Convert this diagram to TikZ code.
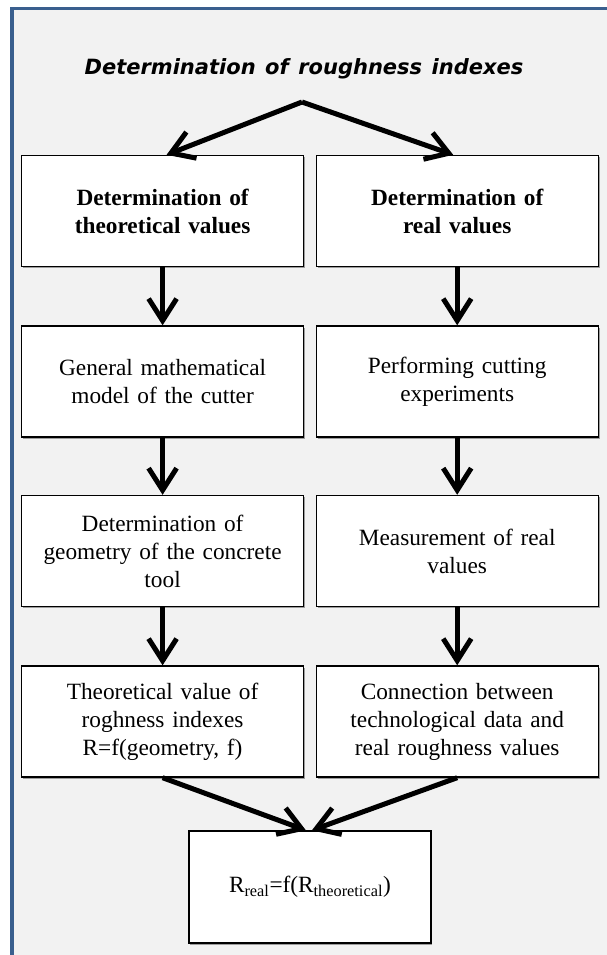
\documentclass[tikz,border=0pt]{standalone}
\usepackage{fontspec}
\setmainfont[WordSpace=0.75]{Liberation Serif}
\newfontfamily\titlefont[WordSpace=1.3]{DejaVu Sans}
\usetikzlibrary{arrows.meta,shadows}
\definecolor{framebg}{HTML}{F2F2F2}
\definecolor{frameblue}{HTML}{3A5F8E}
\begin{document}
\begin{tikzpicture}[x=1pt,y=-1pt,
  box/.style={draw=black,line width=1.4pt,fill=white,minimum width=282pt,minimum height=111pt,
    text width=274pt,align=center,inner sep=0pt,
    font=\fontsize{23.3}{28}\selectfont,
    drop shadow={shadow xshift=1.5pt,shadow yshift=-1.5pt,opacity=0.35,fill=black}},
  headbox/.style={box,font=\bfseries\fontsize{23.3}{28}\selectfont},
  flow/.style={line width=5pt,-{Straight Barb[length=22pt,width=28pt,line width=5pt]}}]
\useasboundingbox (0,0) rectangle (607,955);
\fill[white] (0,0) rectangle (607,955);
\fill[framebg] (10,7) rectangle (607,955);
\draw[frameblue,line width=3.8pt] (11.6,960) -- (11.6,8.6) -- (612,8.6);
\node[font=\titlefont\bfseries\itshape\fontsize{21}{24}\selectfont] (title) at (304,69) {Determination of roughness indexes};
\coordinate (apex) at (302,102);
\node[headbox] (l1) at (162.6,211) {Determination of\\theoretical values};
\node[headbox] (r1) at (457.2,211) {Determination of\\real values};
\node[box] (l2) at (162.6,381.5) {General mathematical\\model of the cutter};
\node[box] (r2) at (457.2,381.5) {Performing cutting\\experiments};
\node[box] (l3) at (162.6,551) {Determination of\\geometry of the concrete\\tool};
\node[box] (r3) at (457.2,551) {Measurement of real\\values};
\node[box] (l4) at (162.6,721.5) {Theoretical value of\\roghness indexes\\R=f(geometry, f)};
\node[box] (r4) at (457.2,721.5) {Connection between\\technological data and\\real roughness values};
\node[box,minimum width=242pt,minimum height=112pt,text width=234pt] (res) at (309.9,887) {R\textsubscript{real}=f(R\textsubscript{theoretical})};
\draw[flow] (apex) -- ([xshift=4pt]l1.north);
\draw[flow] (apex) -- ([xshift=-4pt]r1.north);
\draw[flow] (l1.south) -- (l2.north);
\draw[flow] (r1.south) -- (r2.north);
\draw[flow] (l2.south) -- (l3.north);
\draw[flow] (r2.south) -- (r3.north);
\draw[flow] (l3.south) -- (l4.north);
\draw[flow] (r3.south) -- (r4.north);
\draw[flow] (l4.south) -- ([xshift=-4pt]res.north);
\draw[flow] (r4.south) -- ([xshift=2pt]res.north);
\end{tikzpicture}
\end{document}
